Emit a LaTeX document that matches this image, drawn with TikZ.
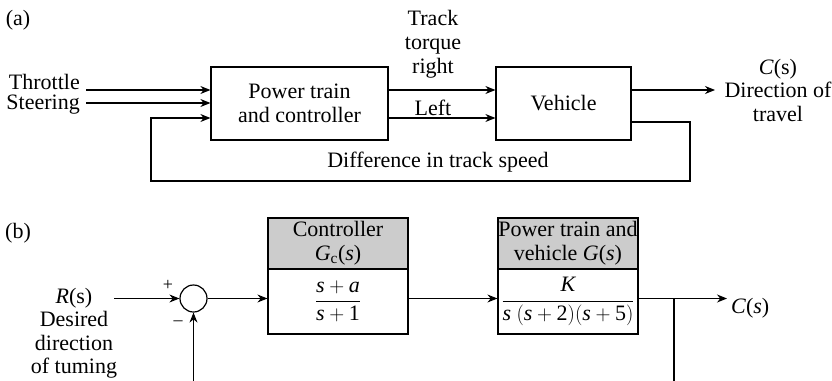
\documentclass[tikz,border=0pt]{standalone}
\usepackage{fontspec}
\setmainfont{Liberation Serif}
\usetikzlibrary{arrows.meta}
\begin{document}
\begin{tikzpicture}[x=1pt,y=-1pt,font=\fontsize{22}{24}\selectfont,
  arr/.style={-{Stealth[length=10pt,width=8pt]},line width=1.2pt},
  ln/.style={line width=1.2pt},
  blk/.style={draw,line width=1.2pt,inner sep=0pt,align=center},
  hdr/.style={blk,fill=gray!40},
  lbl/.style={inner sep=0pt,align=center}]
\useasboundingbox (0,0) rectangle (832,380);
% ---------- (a) ----------
\node[lbl] (la) at (18,20) {(a)};
\node[blk,minimum width=177pt,minimum height=73pt] (pt) at (299.5,103.5) {Power train\\and controller};
\node[blk,minimum width=135pt,minimum height=73pt] (veh) at (563.5,103.5) {Vehicle};
\node[lbl,align=right,anchor=east,font=\fontsize{22}{19.5}\selectfont] (thr) at (80,94) {Throttle\\Steering};
\coordinate (thrs) at (86,90);
\coordinate (stes) at (86,103);
\draw[arr] (thrs) -- (pt.west |- thrs);
\draw[arr] (stes) -- (pt.west |- stes);
\coordinate (rt) at (388,90);
\coordinate (lt) at (388,118);
\draw[arr] (pt.east |- rt) -- (veh.west |- rt);
\draw[arr] (pt.east |- lt) -- (veh.west |- lt);
\node[lbl] (ttr) at (433,44) {Track\\torque\\right};
\node[lbl] (lft) at (433,108) {Left};
\coordinate (aout) at (715,90);
\draw[arr] (veh.east |- aout) -- (aout);
\node[lbl,font=\fontsize{22}{23.5}\selectfont] (cdir) at (778,90) {\textit{C}(s)\\Direction of\\travel};
\coordinate (f1) at (631,122);
\coordinate (f2) at (690,122);
\coordinate (f3) at (690,181);
\coordinate (f4) at (151,181);
\coordinate (f5) at (151,118);
\draw[arr] (veh.east |- f1) -- (f2) -- (f3) -- (f4) -- (f5) -- (pt.west |- f5);
\node[lbl] (diff) at (438,162) {Difference in track speed};
% ---------- (b) ----------
\node[lbl] (lb) at (18,233) {(b)};
\node[draw,circle,line width=1.2pt,minimum size=27pt,inner sep=0pt] (sum) at (193.5,298.5) {};
\node[lbl,font=\fontsize{22}{23.5}\selectfont] (rin) at (74,333) {\textit{R}(s)\\Desired\\direction\\of tuming};
\coordinate (rs) at (114,298.5);
\draw[arr] (rs) -- (sum.west);
\node[lbl,font=\fontsize{18}{18}\selectfont] (plus) at (168,285) {+};
\node[lbl,font=\fontsize{18}{18}\selectfont] (minus) at (178,323) {\textendash};
\coordinate (fbb) at (193.5,381);
\draw[arr] (fbb) -- (sum.south);
\node[hdr,minimum width=140pt,minimum height=51pt] (ch) at (338,243.5) {Controller\\\textit{G}\textsubscript{c}(\textit{s})};
\node[blk,minimum width=140pt,minimum height=65pt] (cb) at (338,301.5) {$\displaystyle\frac{\textit{s} + \textit{a}}{\textit{s} + \textup{1}}$};
\node[hdr,minimum width=140pt,minimum height=51pt] (gh) at (568,243.5) {Power train and\\vehicle \textit{G}(\textit{s})};
\node[blk,minimum width=140pt,minimum height=65pt] (gb) at (568,301.5) {$\displaystyle\frac{\textit{K}}{\textit{s}\ (\textit{s} + \textup{2})(\textit{s} + \textup{5})}$};
\draw[arr] (sum.east) -- (cb.west |- sum.east);
\coordinate (my) at (408,298.5);
\draw[arr] (cb.east |- my) -- (gb.west |- my);
\coordinate (br) at (674,298.5);
\coordinate (bout) at (727,298.5);
\draw[arr] (gb.east |- br) -- (bout);
\coordinate (brd) at (674,381);
\draw[ln] (br) -- (brd);
\node[lbl,anchor=base west] (cout) at (731,313) {\textit{C}(\textit{s})};
\end{tikzpicture}
\end{document}
